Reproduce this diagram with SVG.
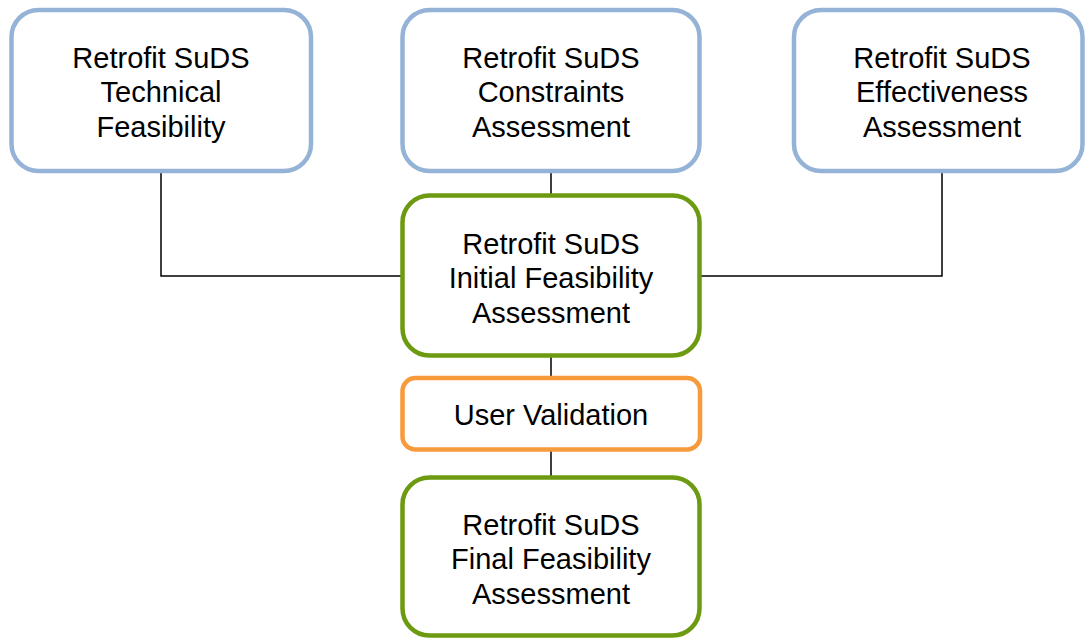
<svg xmlns="http://www.w3.org/2000/svg" width="1085" height="639" viewBox="0 0 1085 639">
<style>
.box{fill:#ffffff;stroke-width:4.5}
.blue{stroke:#95B3D7}
.green{stroke:#6C9A10}
.orange{stroke:#F79A3B}
.lbl{font-family:"Liberation Sans",Arial,sans-serif;font-size:29px;fill:#000;text-anchor:middle}
.conn{fill:none;stroke:#000;stroke-width:1.5}
</style>
<rect width="1085" height="639" fill="#ffffff"/>
<g id="connectors">
<path class="conn" d="M161 172 V276 H402"/>
<path class="conn" d="M942 172 V276 H700"/>
<path class="conn" d="M551 172 V196"/>
<path class="conn" d="M551 356 V378"/>
<path class="conn" d="M551 450 V478"/>
</g>
<g id="technical">
<rect class="box blue" x="11.5" y="10" width="299.5" height="161" rx="27"/>
<text class="lbl" x="161" y="67.5">Retrofit SuDS</text>
<text class="lbl" x="161" y="102">Technical</text>
<text class="lbl" x="161" y="136.5">Feasibility</text>
</g>
<g id="constraints">
<rect class="box blue" x="402.5" y="10" width="297" height="161" rx="27"/>
<text class="lbl" x="551" y="67.5">Retrofit SuDS</text>
<text class="lbl" x="551" y="102">Constraints</text>
<text class="lbl" x="551" y="136.5">Assessment</text>
</g>
<g id="effectiveness">
<rect class="box blue" x="794" y="10" width="288.5" height="161" rx="27"/>
<text class="lbl" x="942" y="67.5">Retrofit SuDS</text>
<text class="lbl" x="942" y="102">Effectiveness</text>
<text class="lbl" x="942" y="136.5">Assessment</text>
</g>
<g id="initial">
<rect class="box green" x="402.5" y="195.5" width="297" height="160" rx="27"/>
<text class="lbl" x="551" y="253.5">Retrofit SuDS</text>
<text class="lbl" x="551" y="288">Initial Feasibility</text>
<text class="lbl" x="551" y="322.5">Assessment</text>
</g>
<g id="validation">
<rect class="box orange" x="402.5" y="378" width="297.5" height="71.5" rx="13"/>
<text class="lbl" x="551" y="424.5">User Validation</text>
</g>
<g id="final">
<rect class="box green" x="402.5" y="477.5" width="297" height="158" rx="27"/>
<text class="lbl" x="551" y="534.5">Retrofit SuDS</text>
<text class="lbl" x="551" y="569">Final Feasibility</text>
<text class="lbl" x="551" y="603.5">Assessment</text>
</g>
</svg>
